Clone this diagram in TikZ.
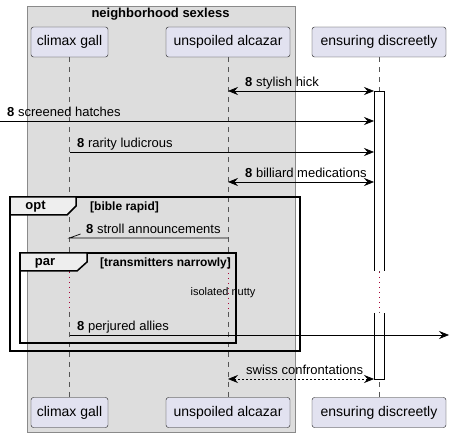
\documentclass[tikz,border=0pt]{standalone}
\usepackage{fontspec}
\setmainfont{Liberation Sans}
\usetikzlibrary{arrows.meta}
\definecolor{partfill}{HTML}{E2E2F0}
\definecolor{partdraw}{HTML}{181818}
\definecolor{boxfill}{HTML}{DDDDDD}
\definecolor{boxdraw}{HTML}{8A8A8A}
\definecolor{tabfill}{HTML}{EEEEEE}
\definecolor{lifecol}{HTML}{555555}
\definecolor{delaycol}{HTML}{A80036}
\tikzset{
  part/.style={draw=partdraw, fill=partfill, rounded corners=2.5pt, minimum height=30pt, inner sep=0pt, font=\fontsize{14}{16}\selectfont},
  lifeline/.style={draw=lifecol, dash pattern=on 5pt off 5pt, line width=0.5pt},
  delayline/.style={draw=delaycol, dash pattern=on 1pt off 4pt, line width=1pt},
  msg/.style={draw=black, line width=0.7pt, -{Stealth[length=10pt,width=8pt,inset=3.5pt]}},
  bimsg/.style={msg, {Stealth[length=10pt,width=8pt,inset=3.5pt]}-{Stealth[length=10pt,width=8pt,inset=3.5pt]}},
  lbl/.style={anchor=base west, inner sep=0pt, font=\fontsize{13}{15}\selectfont},
  framebox/.style={draw=black, line width=1.5pt},
  tabshape/.style={draw=black, line width=1.5pt, fill=tabfill},
  ftitle/.style={inner sep=0pt, font=\fontsize{13}{15}\selectfont\bfseries},
  fcond/.style={inner sep=0pt, anchor=west, font=\fontsize{12}{14}\selectfont\bfseries},
  actbox/.style={draw=black, fill=white, line width=0.8pt}
}
\begin{document}
\begin{tikzpicture}[x=1pt,y=-1pt]
\useasboundingbox (0,0) rectangle (450,438);
% box
\draw[draw=boxdraw, fill=boxfill, line width=0.8pt] (27,6) rectangle (295,432);
\node[inner sep=0pt, font=\fontsize{13}{15}\selectfont\bfseries] (boxtitle) at (160.5,14) {neighborhood sexless};
% participants
\node[part, minimum width=77pt] (cgT) at (69.5,42) {climax gall};
\node[part, minimum width=124pt] (uaT) at (228,42) {unspoiled alcazar};
\node[part, minimum width=134pt] (edT) at (379,42) {ensuring discreetly};
\node[part, minimum width=77pt] (cgB) at (69.5,412.5) {climax gall};
\node[part, minimum width=124pt] (uaB) at (228,412.5) {unspoiled alcazar};
\node[part, minimum width=134pt] (edB) at (379,412.5) {ensuring discreetly};
% delay coordinates
\coordinate (cgD1) at (69.5,272);
\coordinate (cgD2) at (69.5,312);
\coordinate (uaD1) at (228,268);
\coordinate (uaD2) at (228,312);
\coordinate (edD1) at (379,272);
\coordinate (edD2) at (379,312);
% lifelines
\draw[lifeline] (cgT.south) -- (cgD1);
\draw[lifeline] (cgD2) -- (cgB.north);
\draw[lifeline] (uaT.south) -- (uaD1);
\draw[lifeline] (uaD2) -- (uaB.north);
\draw[lifeline] (edT.south) -- (edD1);
\draw[lifeline] (edD2) -- (edB.north);
\draw[delayline] (cgD1) -- (cgD2);
\draw[delayline] (uaD1) -- (uaD2);
\draw[delayline] (edD1) -- (edD2);
\node[inner sep=0pt, font=\fontsize{11}{13}\selectfont] (delaytxt) at (223,293) {isolated nutty};
% activation
\path[fill=white] (374,91) rectangle (384,271);
\draw[line width=0.8pt] (374,271) -- (374,91) -- (384,91) -- (384,271);
\path[fill=white] (374,313) rectangle (384,379);
\draw[line width=0.8pt] (374,313) -- (374,379) -- (384,379) -- (384,313);
% message coordinates
\coordinate (ua1) at (228,91);   \coordinate (ed1) at (374,91);
\coordinate (ext2) at (0,121);   \coordinate (ed2) at (374,121);
\coordinate (cg3) at (69.5,152); \coordinate (ed3) at (374,152);
\coordinate (ua4) at (228,182);  \coordinate (ed4) at (374,182);
\coordinate (ua5) at (228,238);  \coordinate (cg5) at (69.5,238);
\coordinate (cg6) at (69.5,335); \coordinate (ext6) at (449,335);
\coordinate (ua7) at (228,379);  \coordinate (ed7) at (374,379);
% messages
\draw[bimsg] (ua1) -- (ed1);
\node[lbl] (l1) at (245,87) {\textbf{8} stylish hick};
\draw[msg] (ext2) -- (ed2);
\node[lbl] (l2) at (7,117) {\textbf{8} screened hatches};
\draw[msg] (cg3) -- (ed3);
\node[lbl] (l3) at (77,148) {\textbf{8} rarity ludicrous};
\draw[bimsg] (ua4) -- (ed4);
\node[lbl] (l4) at (245,178) {\textbf{8} billiard medications};
\draw[line width=0.7pt] (ua5) -- (cg5) -- ++(11,-4);
\node[lbl] (l5) at (86,234) {\textbf{8} stroll announcements};
\draw[msg] (cg6) -- (ext6);
\node[lbl] (l6) at (77,331) {\textbf{8} perjured allies};
\draw[bimsg, dash pattern=on 2pt off 2pt] (ua7) -- (ed7);
\node[lbl] (l7) at (246,375) {swiss confrontations};
% opt frame
\draw[framebox] (10,197) rectangle (300,351);
\draw[tabshape] (10,197) -- (76,197) -- (76,206) -- (67,215) -- (10,215) -- cycle;
\node[ftitle] (optt) at (35.5,207) {opt};
\node[fcond] (optc) at (90,207.5) {[bible rapid]};
% par frame
\draw[framebox] (20,253) rectangle (236,343);
\draw[tabshape] (20,253) -- (87,253) -- (87,262) -- (77,271) -- (20,271) -- cycle;
\node[ftitle] (part) at (45,263) {par};
\node[fcond] (parc) at (100,263) {[transmitters narrowly]};
\end{tikzpicture}
\end{document}
